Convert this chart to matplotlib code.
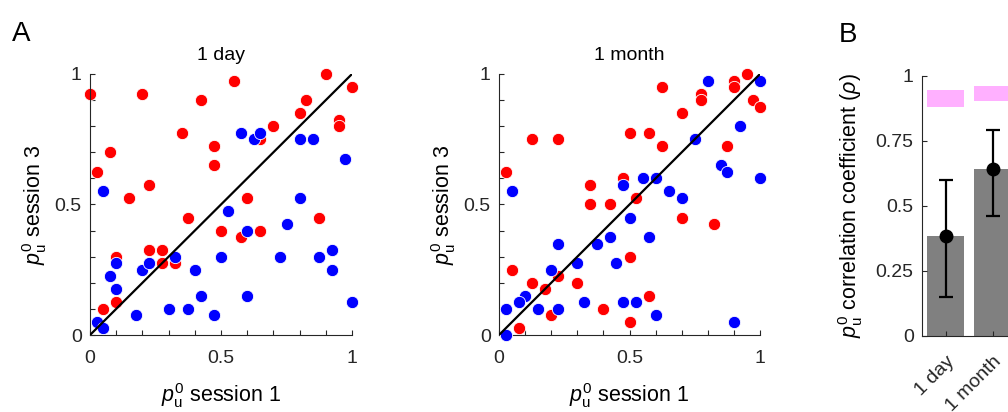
import matplotlib
matplotlib.use("Agg")
import matplotlib.pyplot as plt
import numpy as np
from matplotlib.ticker import MultipleLocator

plt.rcParams["font.family"] = ["Liberation Sans", "DejaVu Sans"]
plt.rcParams["mathtext.fontset"] = "custom"
plt.rcParams["mathtext.rm"] = "Liberation Sans"
plt.rcParams["mathtext.it"] = "Liberation Sans:italic"

# panel A, 1 day: p_u^0 session 1 (x) vs session 3 (y)
day_red_x = [0.0, 0.2, 0.55, 0.425, 0.9, 1.0, 0.825, 0.8, 0.95, 0.95, 0.7, 0.65,
             0.35, 0.475, 0.475, 0.075, 0.025, 0.225, 0.15, 0.6, 0.375, 0.875,
             0.5, 0.65, 0.575, 0.1, 0.225, 0.275, 0.275, 0.325, 0.1, 0.05]
day_red_y = [0.925, 0.925, 0.975, 0.9, 1.0, 0.95, 0.9, 0.85, 0.825, 0.8, 0.8, 0.75,
             0.775, 0.725, 0.65, 0.7, 0.625, 0.575, 0.525, 0.525, 0.45, 0.45,
             0.4, 0.4, 0.375, 0.3, 0.325, 0.325, 0.275, 0.275, 0.125, 0.1]
day_blue_x = [0.05, 0.575, 0.625, 0.65, 0.8, 0.85, 0.975, 0.8, 0.525, 0.75, 0.6,
              0.5, 0.725, 0.875, 0.925, 0.925, 0.1, 0.075, 0.1, 0.2, 0.225, 0.325,
              0.4, 0.425, 0.3, 0.375, 0.175, 0.475, 0.6, 1.0, 0.025, 0.05]
day_blue_y = [0.55, 0.775, 0.75, 0.775, 0.75, 0.75, 0.675, 0.525, 0.475, 0.425, 0.4,
              0.3, 0.3, 0.3, 0.325, 0.25, 0.275, 0.225, 0.175, 0.25, 0.275, 0.3,
              0.25, 0.15, 0.1, 0.1, 0.075, 0.075, 0.15, 0.125, 0.05, 0.025]

# panel A, 1 month
month_red_x = [0.95, 0.9, 0.9, 0.625, 0.775, 0.775, 0.975, 1.0, 0.7, 0.5, 0.575,
               0.625, 0.125, 0.225, 0.875, 0.025, 0.475, 0.35, 0.35, 0.425, 0.525,
               0.7, 0.825, 0.5, 0.05, 0.125, 0.175, 0.225, 0.3, 0.2, 0.4, 0.575,
               0.5, 0.075]
month_red_y = [1.0, 0.975, 0.95, 0.95, 0.925, 0.9, 0.9, 0.875, 0.85, 0.775, 0.775,
               0.725, 0.75, 0.75, 0.725, 0.625, 0.6, 0.575, 0.5, 0.5, 0.525,
               0.45, 0.425, 0.3, 0.25, 0.2, 0.175, 0.225, 0.2, 0.075, 0.1, 0.15,
               0.05, 0.025]
month_blue_x = [0.8, 1.0, 0.925, 0.75, 0.85, 0.875, 1.0, 0.55, 0.6, 0.475, 0.65,
                0.7, 0.05, 0.5, 0.425, 0.575, 0.375, 0.225, 0.3, 0.45, 0.2, 0.1,
                0.075, 0.025, 0.15, 0.225, 0.325, 0.475, 0.525, 0.6, 0.9, 0.025]
month_blue_y = [0.975, 0.975, 0.8, 0.75, 0.65, 0.625, 0.6, 0.6, 0.6, 0.575, 0.55,
                0.525, 0.55, 0.45, 0.375, 0.375, 0.35, 0.35, 0.275, 0.275, 0.25,
                0.15, 0.125, 0.1, 0.1, 0.1, 0.125, 0.125, 0.125, 0.075, 0.05, 0.0]

# panel B
intervals = ["1 day", "1 month"]
rho_mean = [0.385, 0.64]
rho_lo = [0.15, 0.46]
rho_hi = [0.60, 0.79]
ceiling_lo = [0.879, 0.904]
ceiling_hi = [0.946, 0.959]

W, H = 1008, 412
fig = plt.figure(figsize=(W / 100, H / 100), dpi=100)
axcol = "#262626"
fs_tick = 14
fs_lab = 15.5


def px_axes(left, top, right, bottom):
    return fig.add_axes([left / W, 1 - bottom / H, (right - left) / W, (bottom - top) / H])


def style(ax):
    for s in ["top", "right"]:
        ax.spines[s].set_visible(False)
    for s in ["left", "bottom"]:
        ax.spines[s].set_color(axcol)
        ax.spines[s].set_linewidth(0.8)
    ax.tick_params(which="both", direction="in", length=3.5, width=0.8,
                   colors=axcol, labelsize=fs_tick)
    ax.tick_params(axis="x", pad=11)
    ax.tick_params(axis="y", pad=6)


lab = r"$p_\mathrm{u}^0$"
panels = [
    (90, 352, "1 day", day_red_x, day_red_y, day_blue_x, day_blue_y),
    (499, 760, "1 month", month_red_x, month_red_y, month_blue_x, month_blue_y),
]
for left, right, title, rx, ry, bx, by in panels:
    ax = px_axes(left, 74, right, 335)
    style(ax)
    ax.scatter(rx, ry, s=78, c="#ff0000", edgecolors="white", linewidths=0.6,
               clip_on=False, zorder=2)
    ax.scatter(bx, by, s=78, c="#0000ff", edgecolors="white", linewidths=0.6,
               clip_on=False, zorder=3)
    ax.plot([0, 1], [0, 1], color="black", lw=1.6, zorder=4)
    ax.set_xlim(0, 1)
    ax.set_ylim(0, 1)
    ax.set_xticks([0, 0.5, 1])
    ax.set_yticks([0, 0.5, 1])
    ax.set_xticklabels(["0", "0.5", "1"])
    ax.set_yticklabels(["0", "0.5", "1"])
    ax.xaxis.set_minor_locator(MultipleLocator(0.1))
    ax.yaxis.set_minor_locator(MultipleLocator(0.1))
    ax.set_title(title, fontsize=fs_tick, pad=10)
    ax.set_xlabel(lab + " session 1", fontsize=fs_lab, labelpad=10)
    ax.set_ylabel(lab + " session 3", fontsize=fs_lab, labelpad=4)

# panel B
axb = px_axes(922, 75.5, 1016, 336)
style(axb)
pos = np.arange(1, len(intervals) + 1)
axb.bar(pos, rho_mean, width=0.8, color="#808080", zorder=1)
axb.bar(pos, np.array(ceiling_hi) - np.array(ceiling_lo), bottom=ceiling_lo,
        width=0.8, color="#ffb0ff", zorder=1)
axb.errorbar(pos, rho_mean,
             yerr=[np.array(rho_mean) - np.array(rho_lo), np.array(rho_hi) - np.array(rho_mean)],
             fmt="o", color="black", ms=9, lw=1.6, capsize=5, capthick=1.6, zorder=3)
axb.set_xlim(0.5, 2.5)
axb.set_ylim(0, 1)
axb.set_yticks([0, 0.25, 0.5, 0.75, 1])
axb.set_yticklabels(["0", "0.25", "0.5", "0.75", "1"])
axb.set_xticks(pos)
axb.set_xticklabels(intervals, rotation=45, ha="right", rotation_mode="anchor")
axb.tick_params(axis="x", pad=12)
axb.set_ylabel(lab + r" correlation coefficient ($\rho$)", fontsize=fs_lab, labelpad=8)

fig.text(12 / W, 1 - 41 / H, "A", fontsize=20, ha="left", va="baseline")
fig.text(839 / W, 1 - 42 / H, "B", fontsize=20, ha="left", va="baseline")

fig.savefig("out.png", dpi=100)
